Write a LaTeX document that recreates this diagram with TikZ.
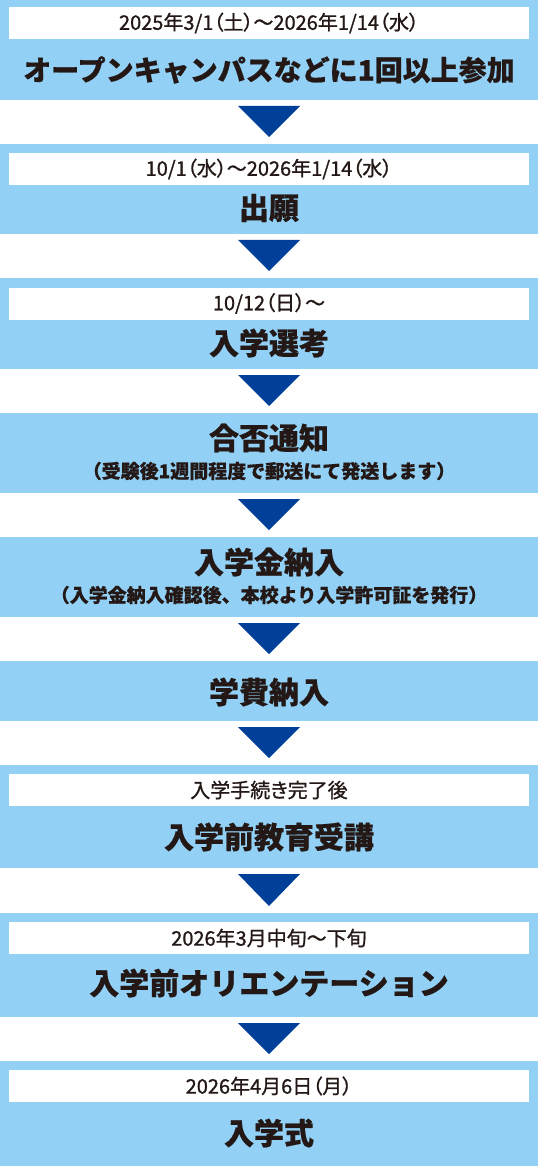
\documentclass[tikz,border=0pt]{standalone}
\usepackage{fontspec}
\setmainfont{Noto Sans CJK JP}[BoldFeatures={FakeBold=0.6}]
\newfontfamily\datefont{Noto Sans CJK JP}[FakeBold=1,RawFeature=+palt]
\usetikzlibrary{calc}
\definecolor{bandblue}{RGB}{146,208,245}
\definecolor{arrowblue}{RGB}{0,64,152}
\definecolor{inkblack}{RGB}{35,24,21}

\begin{document}
\begin{tikzpicture}[x=1pt,y=-1pt,
	band/.style={fill=bandblue,minimum width=538pt,inner sep=0pt,outer sep=0pt},
	datebox/.style={fill=white,minimum width=520pt,minimum height=32pt,inner sep=0pt,text=inkblack,font=\datefont\fontsize{20}{20}\selectfont},
	heading/.style={text=inkblack,inner sep=0pt,font=\bfseries\fontsize{30}{30}\selectfont},
	note/.style={text=inkblack,inner sep=0pt,font=\bfseries\fontsize{19}{19}\selectfont},
	tri/.style={fill=arrowblue}]
		\useasboundingbox (0,0) rectangle (538,1166);
		% steps
		\node[band,minimum height=100pt] (s1) at (269,50) {};
		\node[band,minimum height=90pt] (s2) at (269,189) {};
		\node[band,minimum height=91pt] (s3) at (269,323.5) {};
		\node[band,minimum height=80pt] (s4) at (269,453) {};
		\node[band,minimum height=80pt] (s5) at (269,577) {};
		\node[band,minimum height=60pt] (s6) at (269,691) {};
		\node[band,minimum height=103pt] (s7) at (269,816.5) {};
		\node[band,minimum height=104pt] (s8) at (269,965) {};
		\node[band,minimum height=105pt] (s9) at (269,1113.5) {};
		% dates
		\node[datebox] (d1) at (269,23) {2025年3/1（土）〜2026年1/14（水）};
		\node[datebox] (d2) at (269,169) {10/1（水）〜2026年1/14（水）};
		\node[datebox] (d3) at (269,303.5) {10/12（日）〜};
		\node[datebox] (d7) at (269,790) {入学手続き完了後};
		\node[datebox] (d8) at (269,938) {2026年3月中旬〜下旬};
		\node[datebox] (d9) at (269,1086) {2026年4月6日（月）};
		% titles
		\node[heading,font=\bfseries\fontsize{28}{28}\selectfont] (t1) at (269,70) {オープンキャンパスなどに1回以上参加};
		\node[heading] (t2) at (269,208) {出願};
		\node[heading] (t3) at (269,343) {入学選考};
		\node[heading] (t4) at (269,438) {合否通知};
		\node[note] (n4) at (269,471) {（受験後1週間程度で郵送にて発送します）};
		\node[heading] (t5) at (269,562) {入学金納入};
		\node[note] (n5) at (269,595) {（入学金納入確認後、本校より入学許可証を発行）};
		\node[heading] (t6) at (269,692) {学費納入};
		\node[heading] (t7) at (269,837) {入学前教育受講};
		\node[heading] (t8) at (269,983) {入学前オリエンテーション};
		\node[heading] (t9) at (269,1133) {入学式};
		% arrows
		\fill[tri] ($(s1.south)+(-31,6)$) -- ($(s1.south)+(31,6)$) -- ($(s2.north)+(0,-7)$) -- cycle;
		\fill[tri] ($(s2.south)+(-31,6)$) -- ($(s2.south)+(31,6)$) -- ($(s3.north)+(0,-7)$) -- cycle;
		\fill[tri] ($(s3.south)+(-31,6)$) -- ($(s3.south)+(31,6)$) -- ($(s4.north)+(0,-7)$) -- cycle;
		\fill[tri] ($(s4.south)+(-31,6)$) -- ($(s4.south)+(31,6)$) -- ($(s5.north)+(0,-7)$) -- cycle;
		\fill[tri] ($(s5.south)+(-31,6)$) -- ($(s5.south)+(31,6)$) -- ($(s6.north)+(0,-7)$) -- cycle;
		\fill[tri] ($(s6.south)+(-31,6)$) -- ($(s6.south)+(31,6)$) -- ($(s7.north)+(0,-7)$) -- cycle;
		\fill[tri] ($(s7.south)+(-31,6)$) -- ($(s7.south)+(31,6)$) -- ($(s8.north)+(0,-7)$) -- cycle;
		\fill[tri] ($(s8.south)+(-31,6)$) -- ($(s8.south)+(31,6)$) -- ($(s9.north)+(0,-7)$) -- cycle;
\end{tikzpicture}
\end{document}
